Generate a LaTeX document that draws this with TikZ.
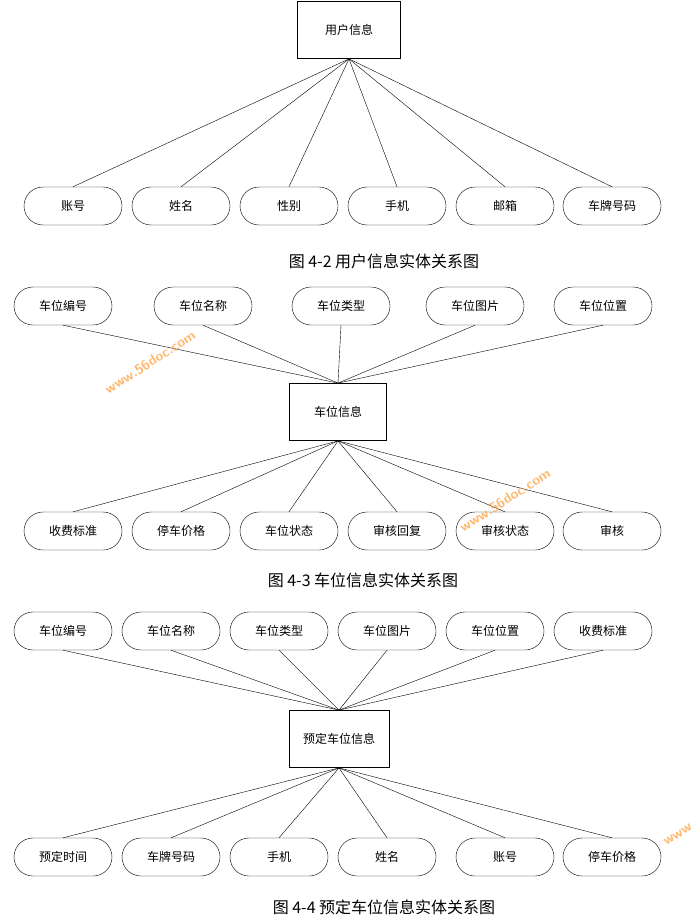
\documentclass[tikz,border=0pt]{standalone}
\usepackage{fontspec}
\newfontfamily\cjk{Noto Sans CJK SC}
\begin{document}
\begin{tikzpicture}[x=1pt,y=-1pt,
 ent/.style={draw,thick,minimum width=100pt,minimum height=57pt,font=\cjk\fontsize{12}{14}\selectfont,inner sep=0pt},
 attr/.style={draw,rounded corners=19pt,minimum width=98pt,minimum height=38pt,font=\cjk\fontsize{12}{14}\selectfont,inner sep=0pt},
 captxt/.style={font=\cjk\fontsize{16}{18}\selectfont},
 wm/.style={font=\sffamily\bfseries\fontsize{14}{14}\selectfont,text=orange!70,opacity=0.8}]
\useasboundingbox (0,0) rectangle (696,923);
% Diagram 1
\node[ent,minimum width=103pt] (u) at (349,30) {用户信息};
\foreach \n/\x/\t in {a/73/账号,b/181/姓名,c/289/性别,d/397/手机,e/505/邮箱,f/612/车牌号码}{
 \node[attr] (u\n) at (\x,206) {\t};
 \draw (u.south) -- (u\n.north);}
\node[captxt] (c1) at (384,261) {图 4-2 用户信息实体关系图};
% Diagram 2
\node[ent,minimum width=97pt] (p) at (338,412) {车位信息};
\foreach \n/\x/\t in {a/63/车位编号,b/203/车位名称,c/341/车位类型,d/475/车位图片,e/603/车位位置}{
 \node[attr] (pt\n) at (\x,306) {\t};
 \draw (pt\n.south) -- (p.north);}
\foreach \n/\x/\t in {a/73/收费标准,b/181/停车价格,c/289/车位状态,d/397/审核回复,e/505/审核状态,f/612/审核}{
 \node[attr] (pb\n) at (\x,531) {\t};
 \draw (p.south) -- (pb\n.north);}
\node[captxt] (c2) at (363,580) {图 4-3 车位信息实体关系图};
% Diagram 3
\node[ent] (r) at (339,739) {预定车位信息};
\foreach \n/\x/\t in {a/63/车位编号,b/171/车位名称,c/279/车位类型,d/387/车位图片,e/495/车位位置,f/603/收费标准}{
 \node[attr] (rt\n) at (\x,631) {\t};
 \draw (rt\n.south) -- (r.north);}
\foreach \n/\x/\t in {a/63/预定时间,b/171/车牌号码,c/279/手机,d/387/姓名,e/505/账号,f/612/停车价格}{
 \node[attr] (rb\n) at (\x,857) {\t};
 \draw (r.south) -- (rb\n.north);}
\node[captxt] (c3) at (384,907) {图 4-4 预定车位信息实体关系图};
% watermarks
\node[wm,rotate=33] (w1) at (150,362) {www.56doc.com};
\node[wm,rotate=33] (w2) at (505,500) {www.56doc.com};
\node[wm,rotate=33,anchor=west] (w3) at (662,845) {www};
\end{tikzpicture}
\end{document}
